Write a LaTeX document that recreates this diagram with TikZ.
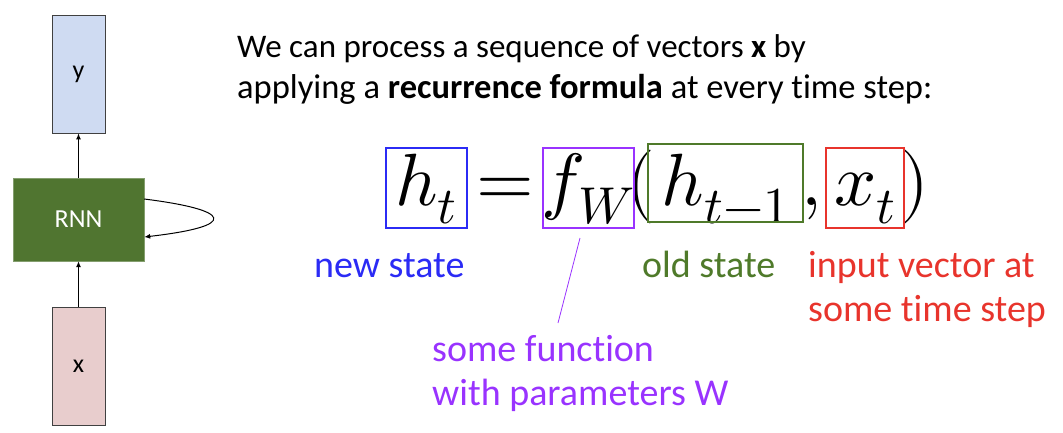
\documentclass[tikz,border=0pt]{standalone}
\usepackage{fontspec}
\usepackage{unicode-math}
\setmainfont[Ligatures=NoCommon]{Carlito}
\setmathfont{Latin Modern Math}
\usetikzlibrary{arrows.meta}
\definecolor{boxblue}{HTML}{CFDBF2}
\definecolor{boxpink}{HTML}{E8CDCD}
\definecolor{rnngreen}{HTML}{507530}
\definecolor{lblue}{HTML}{2B2BF5}
\definecolor{lpurple}{HTML}{9933FF}
\definecolor{lgreen}{HTML}{4F7A2A}
\definecolor{lred}{HTML}{E8342C}
\definecolor{edge}{HTML}{404040}
\tikzset{
  vecbox/.style={draw=edge, line width=0.8pt, minimum width=53pt, minimum height=118pt, inner sep=0pt, font=\fontsize{26}{30}\selectfont},
  arr/.style={-{Latex[length=6pt,width=5pt]}, line width=1pt},
  lbl/.style={anchor=base west, inner sep=0pt, align=left, font=\fontsize{38}{44}\selectfont},
  mth/.style={anchor=base, inner sep=0pt, font=\fontsize{74}{74}\selectfont},
  mbox/.style={line width=1.2pt}
}
\begin{document}
\begin{tikzpicture}[x=1pt,y=-1pt]
\useasboundingbox (0,0) rectangle (1063,432);
% left diagram
\node[vecbox, fill=boxblue] (y) at (78.5,74) {y};
\node[vecbox, fill=boxpink] (x) at (78.5,366) {x};
\node[fill=rnngreen, draw=rnngreen!70!white, minimum width=131pt, minimum height=83pt, inner sep=0pt, text=white, font=\fontsize{26}{30}\selectfont] (rnn) at (78.5,219.5) {RNN};
\draw[arr] (rnn.north) -- (y.south);
\draw[arr] (x.north) -- (rnn.south);
\coordinate (l1) at (rnn.east |- 0,199);
\coordinate (l2) at (rnn.east |- 0,237);
\draw[arr] (l1) .. controls (232,210) and (240,226) .. (l2);
% header
\node[anchor=base west, inner sep=0pt, font=\fontsize{33}{41}\selectfont] (head1) at (237,57)
  {We can process a sequence of vectors \textbf{x} by};
\node[anchor=base west, inner sep=0pt, font=\fontsize{34.5}{41}\selectfont] (head2) at (237,98)
  {applying a \textbf{recurrence formula} at every time step:};
% equation
\node[mth] (ht) at (426,205) {$h_t$};
\node[mth] (eq) at (505,205) {$=$};
\node[mth] (fw) at (588,205) {$f_W$};
\node[mth] (lp) at (641,205) {$($};
\node[mth] (hp) at (726,205) {$h_{t-1}$};
\node[mth] (cm) at (812,205) {$,$};
\node[mth] (xt) at (865,205) {$x_t$};
\node[mth] (rp) at (915,205) {$)$};
\draw[mbox, draw=lblue] (386,148) rectangle (467,228);
\draw[mbox, draw=lpurple] (543,148) rectangle (634,228);
\draw[mbox, draw=lgreen] (648,144) rectangle (803,222);
\draw[mbox, draw=lred] (826,148) rectangle (904,228);
\coordinate (fwb) at (580,238);
% labels
\node[lbl, text=lblue] (ns) at (314,277) {new state};
\node[lbl, text=lgreen] (os) at (642,277) {old state};
\node[lbl, text=lred] (iv) at (808,321) {input vector at\\some time step};
\node[lbl, text=lpurple] (sf) at (432,405) {some function\\with parameters W};
\draw[lpurple, line width=0.8pt] (fwb) -- (558,323);
\end{tikzpicture}
\end{document}
